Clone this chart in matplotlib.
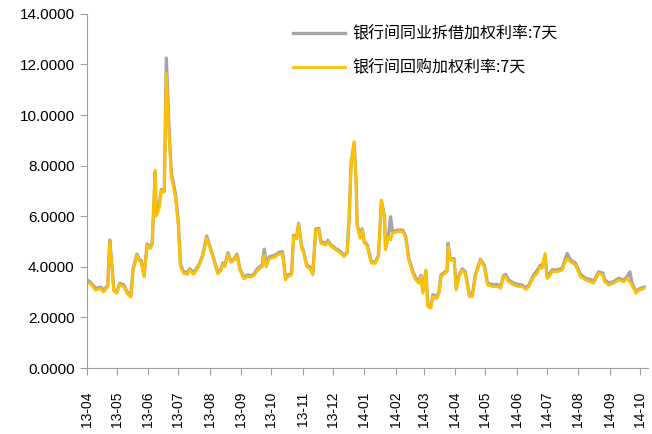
import pandas as pd
import matplotlib
matplotlib.use("Agg")
import matplotlib.pyplot as plt
import matplotlib.dates as mdates
from matplotlib.ticker import FormatStrFormatter

plt.rcParams['font.family'] = ['Liberation Sans', 'Noto Sans CJK SC', 'DejaVu Sans']

dates = [
    "2013-04-01", "2013-04-05", "2013-04-10", "2013-04-15", "2013-04-18", "2013-04-22",
    "2013-04-24", "2013-04-26", "2013-04-28", "2013-05-01", "2013-05-04", "2013-05-08",
    "2013-05-11", "2013-05-15", "2013-05-17", "2013-05-21", "2013-05-23", "2013-05-25",
    "2013-05-28", "2013-05-31", "2013-06-03", "2013-06-05", "2013-06-08", "2013-06-09",
    "2013-06-12", "2013-06-14", "2013-06-17", "2013-06-19", "2013-06-22", "2013-06-24",
    "2013-06-28", "2013-07-01", "2013-07-03", "2013-07-06", "2013-07-10", "2013-07-12",
    "2013-07-16", "2013-07-21", "2013-07-25", "2013-07-29", "2013-07-31", "2013-08-04",
    "2013-08-09", "2013-08-12", "2013-08-14", "2013-08-16", "2013-08-19", "2013-08-22",
    "2013-08-25", "2013-08-28", "2013-08-31", "2013-09-04", "2013-09-07", "2013-09-11",
    "2013-09-14", "2013-09-17", "2013-09-22", "2013-09-24", "2013-09-26", "2013-09-29",
    "2013-10-04", "2013-10-09", "2013-10-12", "2013-10-14", "2013-10-15", "2013-10-17",
    "2013-10-21", "2013-10-23", "2013-10-26", "2013-10-28", "2013-10-31", "2013-11-02",
    "2013-11-05", "2013-11-08", "2013-11-11", "2013-11-14", "2013-11-17", "2013-11-19",
    "2013-11-24", "2013-11-26", "2013-11-29", "2013-12-04", "2013-12-09", "2013-12-12",
    "2013-12-15", "2013-12-17", "2013-12-19", "2013-12-22", "2013-12-24", "2013-12-25",
    "2013-12-28", "2013-12-30", "2014-01-01", "2014-01-04", "2014-01-08", "2014-01-12",
    "2014-01-15", "2014-01-18", "2014-01-21", "2014-01-22", "2014-01-25", "2014-01-27",
    "2014-01-29", "2014-02-03", "2014-02-08", "2014-02-11", "2014-02-14", "2014-02-18",
    "2014-02-21", "2014-02-24", "2014-02-26", "2014-02-28", "2014-03-03", "2014-03-05",
    "2014-03-08", "2014-03-10", "2014-03-14", "2014-03-16", "2014-03-18", "2014-03-22",
    "2014-03-24", "2014-03-25", "2014-03-27", "2014-03-31", "2014-04-02", "2014-04-05",
    "2014-04-08", "2014-04-11", "2014-04-15", "2014-04-18", "2014-04-21", "2014-04-26",
    "2014-04-30", "2014-05-03", "2014-05-08", "2014-05-13", "2014-05-16", "2014-05-19",
    "2014-05-21", "2014-05-24", "2014-05-29", "2014-06-03", "2014-06-06", "2014-06-10",
    "2014-06-13", "2014-06-18", "2014-06-21", "2014-06-24", "2014-06-26", "2014-06-29",
    "2014-07-01", "2014-07-03", "2014-07-06", "2014-07-11", "2014-07-16", "2014-07-19",
    "2014-07-21", "2014-07-24", "2014-07-29", "2014-08-03", "2014-08-08", "2014-08-13",
    "2014-08-16", "2014-08-21", "2014-08-25", "2014-08-27", "2014-08-31", "2014-09-05",
    "2014-09-10", "2014-09-15", "2014-09-18", "2014-09-21", "2014-09-23", "2014-09-27",
    "2014-09-30", "2014-10-05",
]

repo_7d = [
    3.40, 3.33, 3.08, 3.14, 3.00, 3.20, 5.00, 4.10, 3.05, 2.95, 3.30, 3.20,
    2.95, 2.80, 3.85, 4.45, 4.25, 4.18, 3.60, 4.85, 4.72, 4.85, 7.83, 6.00,
    6.30, 7.00, 6.95, 11.65, 9.00, 7.56, 6.77, 5.59, 4.00, 3.74, 3.70, 3.87,
    3.70, 4.00, 4.40, 5.15, 4.90, 4.40, 3.72, 3.85, 4.10, 4.00, 4.50, 4.18,
    4.25, 4.45, 3.85, 3.52, 3.62, 3.60, 3.66, 3.85, 4.00, 4.47, 4.00, 4.32,
    4.38, 4.50, 4.52, 3.87, 3.48, 3.60, 3.68, 5.19, 5.10, 5.70, 4.73, 4.53,
    4.00, 3.94, 3.68, 5.45, 5.48, 4.93, 4.86, 5.00, 4.80, 4.67, 4.53, 4.40,
    4.53, 5.85, 8.09, 8.95, 7.17, 5.59, 5.13, 5.46, 4.93, 4.80, 4.14, 4.14,
    4.40, 6.64, 5.90, 4.67, 5.19, 5.06, 5.32, 5.39, 5.39, 5.13, 4.27, 3.74,
    3.48, 3.35, 3.61, 2.95, 3.87, 2.42, 2.36, 2.82, 2.75, 2.95, 3.61, 3.74,
    3.81, 4.80, 4.27, 4.27, 3.08, 3.61, 3.87, 3.74, 2.82, 2.82, 3.61, 4.27,
    3.97, 3.28, 3.22, 3.22, 3.15, 3.61, 3.60, 3.41, 3.28, 3.22, 3.22, 3.11,
    3.22, 3.61, 3.74, 4.00, 3.94, 4.53, 3.54, 3.61, 3.81, 3.81, 3.87, 4.20,
    4.33, 4.20, 4.07, 3.61, 3.48, 3.41, 3.35, 3.74, 3.68, 3.41, 3.28, 3.35,
    3.48, 3.41, 3.54, 3.40, 3.28, 2.95, 3.08, 3.15,
]

interbank_7d = [
    3.50, 3.38, 3.15, 3.20, 3.08, 3.26, 5.06, 4.15, 3.10, 3.00, 3.35, 3.28,
    3.02, 2.88, 3.90, 4.50, 4.30, 4.25, 3.65, 4.90, 4.78, 4.92, 7.75, 6.15,
    6.45, 7.05, 7.00, 12.25, 9.20, 7.70, 6.90, 5.70, 4.10, 3.80, 3.78, 3.92,
    3.78, 4.05, 4.45, 5.22, 4.95, 4.45, 3.78, 3.90, 4.15, 4.05, 4.56, 4.22,
    4.30, 4.50, 3.90, 3.58, 3.68, 3.65, 3.72, 3.92, 4.08, 4.70, 4.10, 4.40,
    4.45, 4.58, 4.60, 3.95, 3.55, 3.66, 3.74, 5.25, 5.18, 5.72, 4.80, 4.60,
    4.06, 4.00, 3.74, 5.50, 5.52, 5.00, 4.92, 5.05, 4.86, 4.72, 4.58, 4.45,
    4.58, 5.90, 8.15, 8.90, 7.25, 5.65, 5.20, 5.50, 5.00, 4.86, 4.20, 4.20,
    4.45, 6.60, 6.00, 4.75, 5.25, 5.98, 5.40, 5.45, 5.45, 5.20, 4.35, 3.82,
    3.56, 3.42, 3.66, 3.05, 3.85, 2.50, 2.45, 2.90, 2.82, 3.02, 3.68, 3.80,
    3.86, 4.93, 4.32, 4.32, 3.15, 3.68, 3.92, 3.80, 2.90, 2.90, 3.68, 4.30,
    4.05, 3.35, 3.30, 3.30, 3.22, 3.66, 3.70, 3.48, 3.35, 3.30, 3.28, 3.18,
    3.28, 3.70, 3.85, 4.05, 4.00, 4.45, 3.62, 3.70, 3.88, 3.88, 3.95, 4.30,
    4.53, 4.28, 4.15, 3.70, 3.55, 3.50, 3.42, 3.80, 3.76, 3.50, 3.36, 3.42,
    3.55, 3.48, 3.60, 3.80, 3.35, 3.02, 3.12, 3.20,
]

label_interbank = "银行间同业拆借加权利率:7天"
label_repo = "银行间回购加权利率:7天"

x = pd.to_datetime(dates)

fig = plt.figure(figsize=(6.52, 4.34), dpi=100)
ax = fig.add_axes([0.1327, 0.152, 0.8613, 0.816])

ax.plot(x, interbank_7d, color='#A5A5A5', lw=2.4, label=label_interbank)
ax.plot(x, repo_7d, color='#FFC000', lw=2.0, label=label_repo)

ax.set_ylim(0, 14)
ax.set_yticks(range(0, 15, 2))
ax.yaxis.set_major_formatter(FormatStrFormatter('%.4f'))
ax.set_xlim(pd.Timestamp("2013-04-01"), pd.Timestamp("2014-10-09"))
ax.xaxis.set_major_locator(mdates.MonthLocator())
ax.xaxis.set_major_formatter(mdates.DateFormatter('%y-%m'))
plt.setp(ax.get_xticklabels(), rotation=90)

for side in ['top', 'right']:
    ax.spines[side].set_visible(False)
for side in ['left', 'bottom']:
    ax.spines[side].set_color('#A0A0A0')
ax.tick_params(axis='both', colors='#A0A0A0', labelcolor='black', length=5, labelsize=11)
ax.tick_params(axis='x', labelsize=10, pad=12)

ax.legend(loc='upper left', bbox_to_anchor=(0.428, 0.975), bbox_transform=fig.transFigure,
          frameon=False, handlelength=3.25, labelspacing=1.06, handletextpad=0.45,
          prop={'family': ['Noto Sans CJK SC', 'DejaVu Sans'], 'size': 11.5})

fig.savefig("out.png", dpi=100)
